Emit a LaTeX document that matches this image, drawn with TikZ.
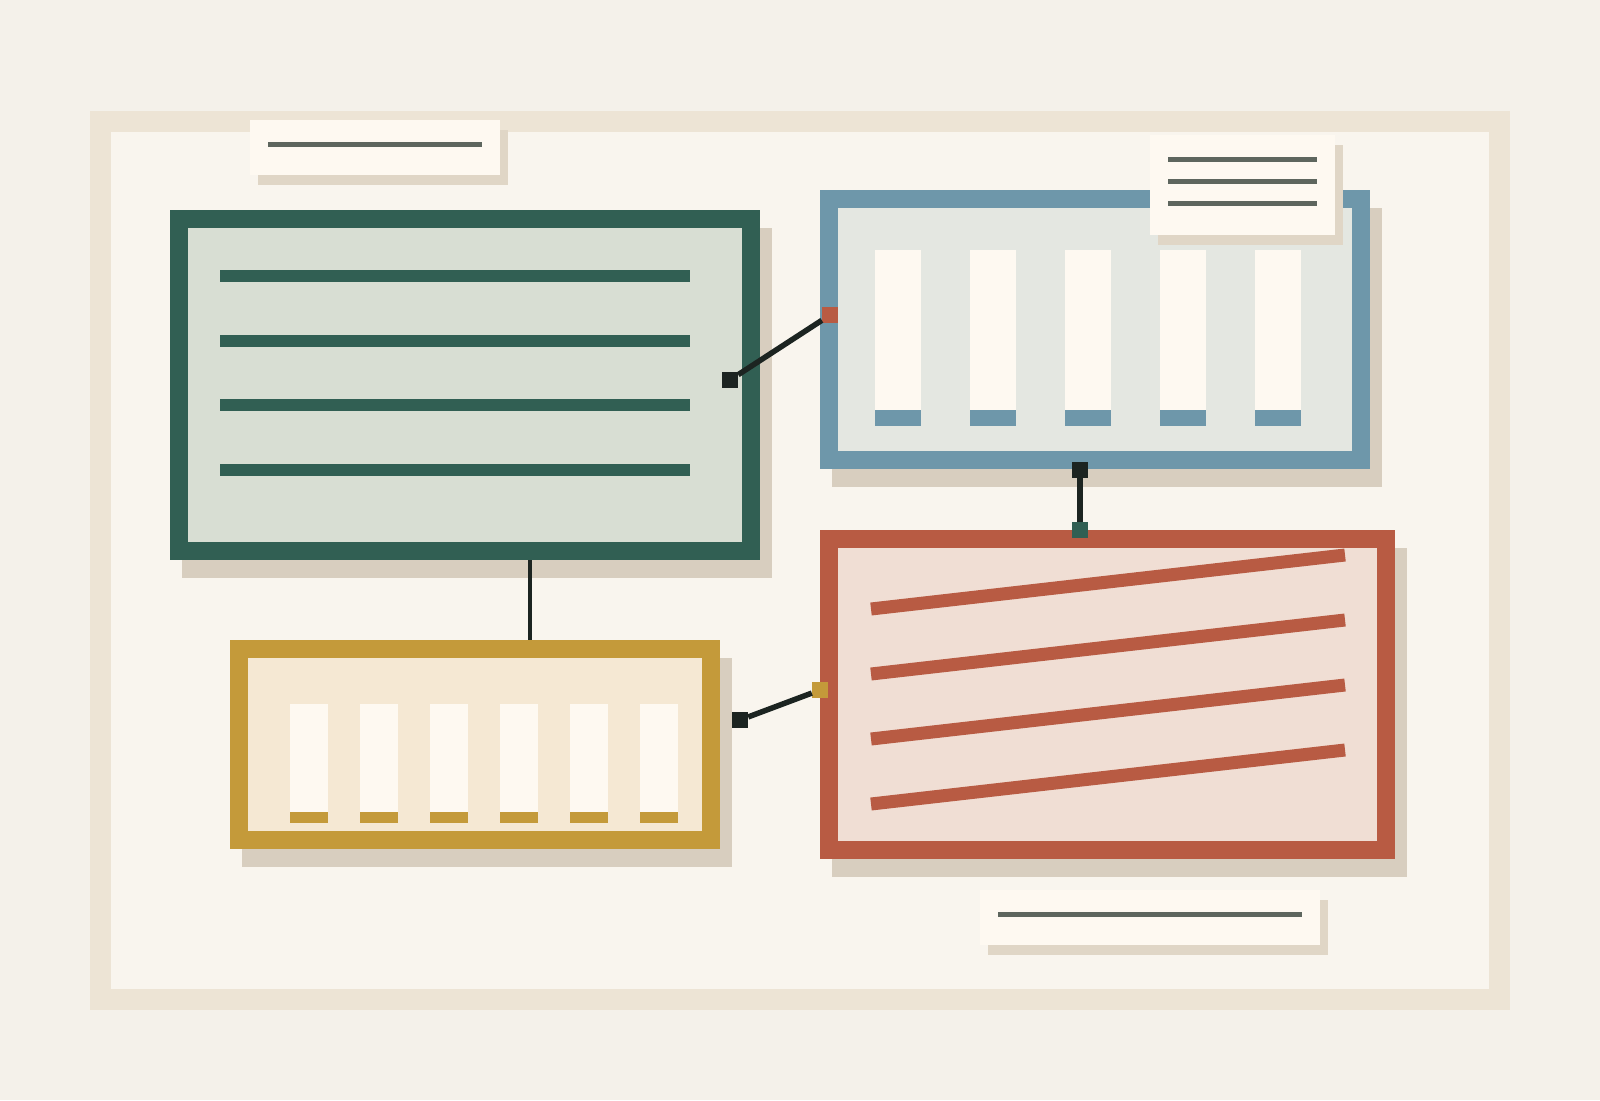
\documentclass[tikz,border=0pt]{standalone}
\usepackage{tikz}
\usetikzlibrary{calc}
\definecolor{Paper}{HTML}{F4F1EA}
\definecolor{FrameTan}{HTML}{EDE4D5}
\definecolor{Board}{HTML}{F9F5EE}
\definecolor{Shade}{HTML}{D8CEBF}
\definecolor{TagShade}{HTML}{E0D6C6}
\definecolor{Card}{HTML}{FEF9F1}
\definecolor{InkGray}{HTML}{5E665E}
\definecolor{Wire}{HTML}{1C2421}
\definecolor{PanelGreen}{HTML}{315F53}
\definecolor{PanelGreenFill}{HTML}{D8DED3}
\definecolor{PanelBlue}{HTML}{6E97AA}
\definecolor{PanelBlueFill}{HTML}{E4E7E1}
\definecolor{PanelRust}{HTML}{B85B43}
\definecolor{PanelRustFill}{HTML}{F0DED4}
\definecolor{PanelOchre}{HTML}{C49A3A}
\definecolor{PanelOchreFill}{HTML}{F5E8D3}
\tikzset{
  panel/.style={draw=#1, fill=#1Fill, line width=18pt, inner sep=0pt,
    preaction={draw=Shade, fill=Shade, transform canvas={shift={(12pt,-18pt)}}}},
  tag/.style={fill=Card, inner sep=0pt,
    preaction={fill=TagShade, transform canvas={shift={(8pt,-10pt)}}}},
  port/.style={fill=#1, minimum size=16pt, inner sep=0pt},
  wire/.style={draw=Wire, line width=5.5pt}
}
\begin{document}
\begin{tikzpicture}[x=1pt,y=-1pt]
    \fill[Paper] (0,0) rectangle (1600,1100);
    \draw[FrameTan, fill=Board, line width=21pt] (100.5,121) rectangle (1499.5,999);
    % panels
    \node[panel=PanelGreen, minimum width=572pt, minimum height=332pt] (list) at (465,385) {};
    \node[panel=PanelBlue, minimum width=532pt, minimum height=261pt] (chart) at (1095,329.5) {};
    \node[panel=PanelRust, minimum width=557pt, minimum height=311pt] (sketch) at (1107.5,694.5) {};
    \node[panel=PanelOchre, minimum width=472pt, minimum height=191pt] (bars) at (475,744.5) {};
    \foreach \y in {276,341,405,470} {
     \fill[PanelGreen] (220,\y-6) rectangle (690,\y+6);
    }
    \foreach \x in {875,970,1065,1160,1255} {
     \fill[Card] (\x,250) rectangle +(46,160);
     \fill[PanelBlue] (\x,410) rectangle +(46,16);
    }
    \foreach \i in {0,...,3} {
     \draw[PanelRust, line width=13pt] (871,609+65*\i) -- (1345,555+65*\i);
    }
    \foreach \x in {290,360,...,640} {
     \fill[Card] (\x,704) rectangle +(38,108);
     \fill[PanelOchre] (\x,812) rectangle +(38,11);
    }
    % tags
    \node[tag, minimum width=250pt, minimum height=55pt] (title) at (375,147.5) {};
    \fill[InkGray] (268,141.5) rectangle (482,146.5);
    \node[tag, minimum width=185pt, minimum height=100pt] (note) at (1242.5,185) {};
    \foreach \y in {159,181,203} {
     \fill[InkGray] (1168,\y-2.5) rectangle (1317,\y+2.5);
    }
    \node[tag, minimum width=340pt, minimum height=55pt] (caption) at (1150,917.5) {};
    \fill[InkGray] (998,912) rectangle (1302,917);
    % connectors
    \coordinate (drop) at (530,600);
    \draw[wire, line width=4pt] (drop |- list.south) -- (drop |- bars.north);
    \node[port=Wire] (listout) at (730,380) {};
    \node[port=PanelRust] (chartin) at (830,315) {};
    \node[port=Wire] (chartout) at (1080,470) {};
    \node[port=PanelGreen] (sketchin) at (1080,530) {};
    \node[port=Wire] (barsout) at (740,720) {};
    \node[port=PanelOchre] (sketchside) at (820,690) {};
    \draw[wire] (listout) -- (chartin);
    \draw[wire] (chartout) -- (sketchin);
    \draw[wire] (barsout) -- (sketchside);
\end{tikzpicture}
\end{document}
